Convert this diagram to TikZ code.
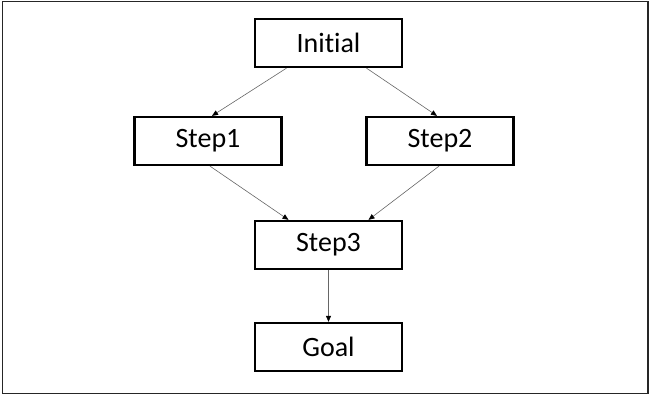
\documentclass[tikz,border=0pt]{standalone}
\usepackage{fontspec}
\setmainfont{Carlito}[Ligatures=NoCommon]
\usetikzlibrary{arrows.meta}

\begin{document}
\begin{tikzpicture}[x=1pt,y=1pt]
\tikzset{every node/.style={font=\fontsize{28}{32}\selectfont}}
\tikzset{stepbox/.style={draw,line width=2.3pt,minimum width=147pt,minimum height=48pt,inner sep=0pt}}
\tikzset{link/.style={draw=gray!80!black,line width=0.6pt,-{Triangle[length=6pt,width=5pt,color=black]}}}

\useasboundingbox (0,0) rectangle (649,398);
\draw[line width=1.2pt,black!85] (2.5,4.5) rectangle (648,396.5);

\node[stepbox] (init) at (328.5,355) {Initial};
\node[stepbox] (step1) at (208,257) {Step1};
\node[stepbox] (step2) at (440,257) {Step2};
\node[stepbox] (step3) at (328.5,153) {Step3};
\node[stepbox] (goal) at (328.5,51) {Goal};

\draw[link] ([xshift=-42pt]init.south) -- ([xshift=4pt]step1.north);
\draw[link] ([xshift=38pt]init.south) -- ([xshift=-3pt]step2.north);
\draw[link] ([xshift=2pt]step1.south) -- ([xshift=-40pt]step3.north);
\draw[link] ([xshift=-1pt]step2.south) -- ([xshift=40pt]step3.north);
\draw[link] (step3) -- (goal);

\end{tikzpicture}
\end{document}
